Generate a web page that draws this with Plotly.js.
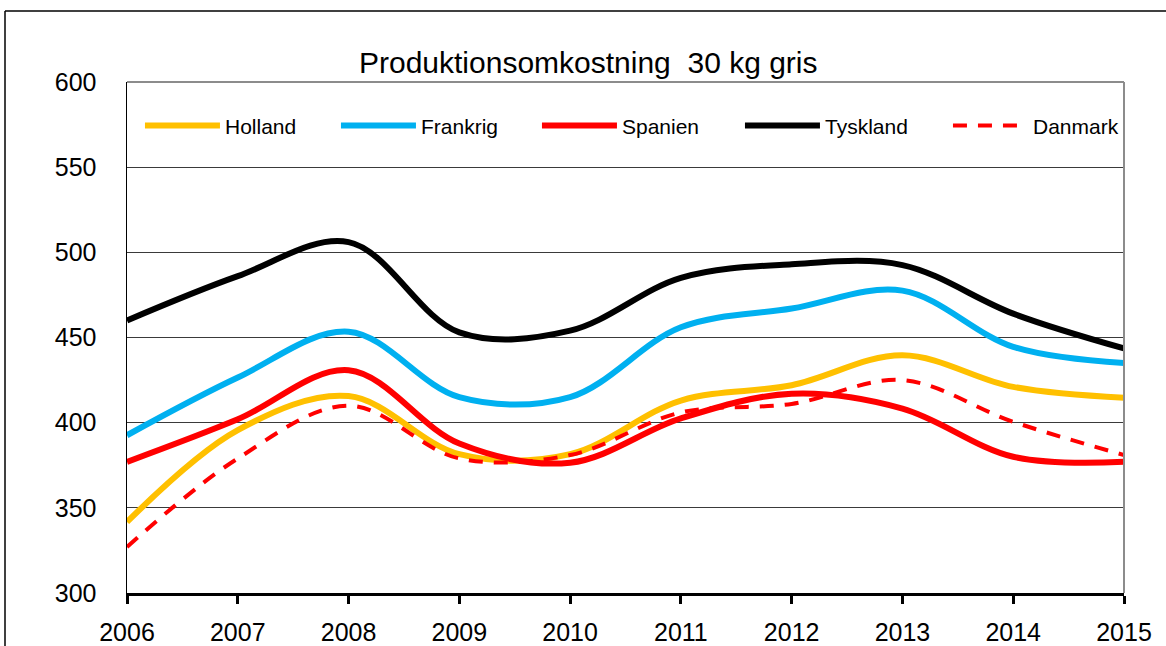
<!DOCTYPE html>
<html>
<head>
<meta charset="utf-8">
<script src="https://cdn.plot.ly/plotly-3.0.1.min.js"></script>
<style>
html,body{margin:0;padding:0;background:#fff;}
#chart{width:1166px;height:646px;}
</style>
</head>
<body>
<div id="chart"></div>
<script>
const years = [2006, 2007, 2008, 2009, 2010, 2011, 2012, 2013, 2014, 2015];
const holland  = [341.7, 395.6, 415.6, 381.5, 381.5, 413, 422, 439.6, 421, 414.6];
const frankrig = [392.6, 426.5, 453.4, 415, 415, 456, 467, 477.5, 444.5, 435];
const spanien  = [377, 402, 430.8, 387.8, 376.5, 402.5, 417, 408.3, 380, 377];
const tyskland = [460, 486, 506, 453, 454, 485, 493, 492.5, 464, 443.6];
const danmark  = [327, 379, 410, 379, 381, 406, 411, 425, 400.5, 381];
const seriesNames = ["Holland", "Frankrig", "Spanien", "Tyskland", "Danmark"];
const seriesColors = ["#FFC000", "#00B0F0", "#FF0000", "#000000", "#FF0000"];
const titleText = "Produktionsomkostning  30 kg gris";
const yTicks = [300, 350, 400, 450, 500, 550, 600];

const seriesData = [holland, frankrig, spanien, tyskland, danmark];
const legendWidths = [106, 111, 113, 118, 90];
const traces = seriesData.map((vals, i) => ({
  type: "scatter",
  mode: "lines",
  name: seriesNames[i],
  x: years,
  y: vals,
  legendwidth: legendWidths[i],
  line: {
    color: seriesColors[i],
    width: i === 4 ? 4 : 6,
    shape: "spline",
    smoothing: 1,
    dash: i === 4 ? "14px,11px" : "solid"
  }
}));

const font = "Liberation Sans, Arial, sans-serif";
const layout = {
  width: 1166,
  height: 646,
  margin: {l: 127, r: 42, t: 82, b: 53},
  paper_bgcolor: "#ffffff",
  plot_bgcolor: "#ffffff",
  font: {family: font, color: "#000"},
  title: {
    text: titleText,
    font: {family: font, size: 30, color: "#000"},
    x: 0.5045, xref: "container", xanchor: "center",
    y: 1 - 62/646, yref: "container", yanchor: "middle"
  },
  showlegend: true,
  legend: {
    orientation: "h",
    x: 0.013, xanchor: "left",
    y: 0.914, yanchor: "middle",
    font: {family: font, size: 21, color: "#000"},
    bgcolor: "rgba(0,0,0,0)",
    itemwidth: 75,
    entrywidthmode: "pixels",
    traceorder: "normal"
  },
  xaxis: {
    range: [2006, 2015],
    tickvals: years,
    ticktext: years.map(String),
    showgrid: false,
    zeroline: false,
    showline: true,
    linecolor: "#000",
    linewidth: 3,
    ticks: "outside",
    ticklen: 8,
    tickwidth: 3,
    tickcolor: "#000",
    tickfont: {family: font, size: 25, color: "#000"},
    ticklabelstandoff: 7
  },
  yaxis: {
    range: [300, 600],
    tickvals: yTicks,
    ticktext: yTicks.map(String),
    showgrid: true,
    gridcolor: "#3a3a3a",
    gridwidth: 1,
    zeroline: false,
    showline: true,
    linecolor: "#000",
    linewidth: 1.5,
    ticks: "",
    tickfont: {family: font, size: 25, color: "#000"},
    ticklabelstandoff: 24
  },
  shapes: [
    {type: "line", xref: "paper", yref: "paper", x0: 0, x1: 1, y0: 1, y1: 1,
     line: {color: "#8c8c8c", width: 2}, layer: "above"},
    {type: "line", xref: "paper", yref: "paper", x0: 1, x1: 1, y0: 0, y1: 1,
     line: {color: "#8c8c8c", width: 2}, layer: "above"},
    {type: "line", xref: "paper", yref: "paper",
     x0: (5-127)/997, x1: (1180-127)/997, y0: (593-11)/511, y1: (593-11)/511,
     line: {color: "#000", width: 1.5}, layer: "above"},
    {type: "line", xref: "paper", yref: "paper",
     x0: (5-127)/997, x1: (5-127)/997, y0: (593-11)/511, y1: (593-660)/511,
     line: {color: "#000", width: 1.5}, layer: "above"}
  ]
};

Plotly.newPlot("chart", traces, layout, {staticPlot: true, displayModeBar: false});
</script>
</body>
</html>
